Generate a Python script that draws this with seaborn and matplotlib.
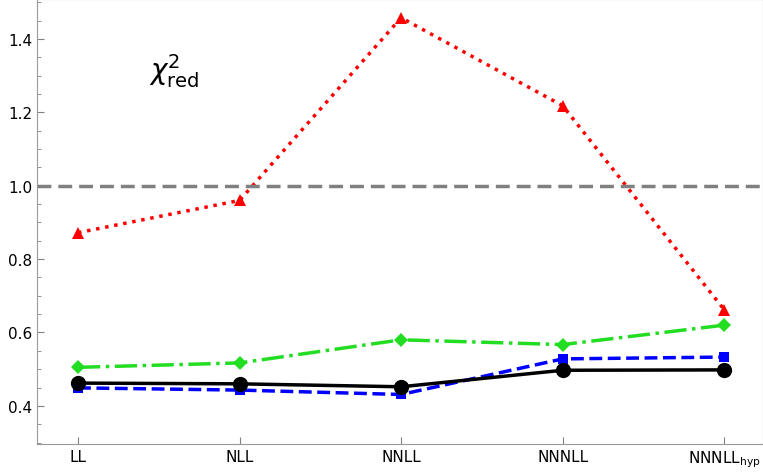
import matplotlib
matplotlib.use("Agg")
import matplotlib.pyplot as plt
import seaborn as sns
import pandas as pd

categories = ["LL", "NLL", "NNLL", "NNNLL", "NNNLL$_{\\rm hyp}$"]
red = [0.872, 0.960, 1.458, 1.218, 0.662]
green = [0.505, 0.517, 0.580, 0.567, 0.620]
blue = [0.449, 0.443, 0.431, 0.528, 0.533]
black = [0.462, 0.460, 0.452, 0.497, 0.498]

x = list(range(len(categories)))
fig = plt.figure(figsize=(7.63, 4.77), dpi=100)
ax = fig.add_axes([37/763, 32/477, 726/763, 445/477])
styles = [
    (red, "red", ":", "^", 9),
    (green, "#22dd22", "-.", "D", 7),
    (blue, "blue", "--", "s", 7),
    (black, "black", "-", "o", 11),
]
for vals, c, ls, m, ms in styles:
    df = pd.DataFrame({"x": x, "y": vals})
    sns.lineplot(data=df, x="x", y="y", ax=ax, color=c, linestyle=ls, lw=2.5,
                 marker=m, markersize=ms, markeredgewidth=0)
ax.axhline(1.0, color="gray", ls="--", lw=2.5, dashes=(4, 2))
ax.set_xlim(-0.254, 4.24)
ax.set_ylim(0.296, 1.509)
ax.set_xticks(x)
ax.set_xticklabels(categories, fontsize=11)
ax.set_yticks([0.4, 0.6, 0.8, 1.0, 1.2, 1.4])
ax.set_yticklabels(["0.4", "0.6", "0.8", "1.0", "1.2", "1.4"], fontsize=11)
ax.set_yticks([0.3 + 0.05 * i for i in range(25) if round((0.3 + 0.05 * i) * 100) % 20 != 0], minor=True)
ax.tick_params(axis="y", direction="in", length=5, color="gray", which="major")
ax.tick_params(axis="y", direction="in", length=3, color="gray", which="minor")
ax.tick_params(axis="x", direction="in", length=5, color="gray")
ax.set_xlabel("")
ax.set_ylabel("")
for s in ax.spines.values():
    s.set_color("#999999")
ax.text(0.44, 1.29, r"$\chi^2_{\rm red}$", fontsize=20)
fig.savefig("out.png", dpi=100)
